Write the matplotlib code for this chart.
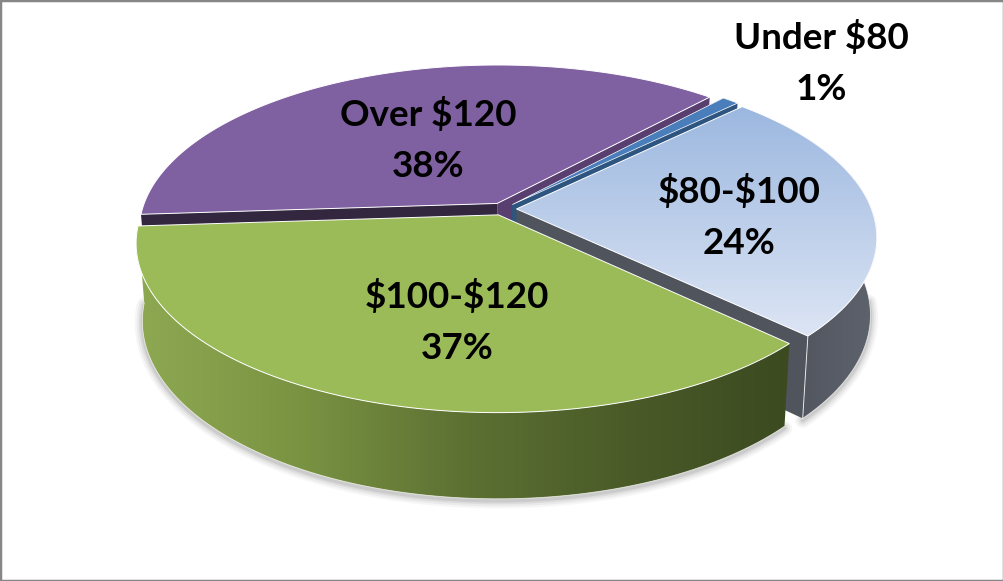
import numpy as np
import matplotlib
matplotlib.use("Agg")
from matplotlib import pyplot as plt
from matplotlib.colors import LinearSegmentedColormap as LSC
from matplotlib.patches import Polygon

# slices, clockwise from the blue sliver, shares
labels = ["Under $80", "$80-$100", "$100-$120", "Over $120"]
shares = [0.9, 24.49, 36.8, 37.81]
pct_labels = ["1%", "24%", "37%", "38%"]
label_x = [821, 739, 457, 428]
label_y = [63, 217, 322, 140]

start = 42.3
explode = 0.038
cx, cy = 503, 209
A, B, k = 355, 163, 0.165
depth, squeeze_x, stretch_y = 76, 0.983, 1.05


def project(X, v, bottom=False):
    w = 1 - k * v
    sx = A * X / w
    sy = B * v / w
    if bottom:
        return cx + sx * squeeze_x, cy + sy * stretch_y + depth
    return cx + sx, cy + sy


def rim(t1, t2, mid, bottom=False):
    t = np.radians(np.linspace(t1, t2, 120))
    X = explode * np.sin(np.radians(mid)) + np.sin(t)
    v = -explode * np.cos(np.radians(mid)) - np.cos(t)
    return np.column_stack(project(X, v, bottom))


def apex(mid, bottom=False):
    X = explode * np.sin(np.radians(mid))
    v = -explode * np.cos(np.radians(mid))
    return np.array([project(X, v, bottom)])


def poly(pts, color, edge="none", lw=0, z=1):
    p = Polygon(pts, closed=True, facecolor=color, edgecolor=edge, linewidth=lw, zorder=z)
    ax.add_patch(p)
    return p


def gradient(patch, colors, extent, vertical=False, z=1):
    cm = LSC.from_list("g", colors)
    g = np.linspace(0, 1, 256)
    g = g.reshape(-1, 1) if vertical else g.reshape(1, -1)
    im = ax.imshow(g, cmap=cm, extent=extent, aspect="auto", zorder=z, interpolation="bilinear")
    im.set_clip_path(patch)


def radius_wall(t, mid, color, z):
    a = apex(mid)
    a2 = apex(mid, True)
    r = rim(t, t, mid)[:1]
    r2 = rim(t, t, mid, True)[:1]
    poly(np.vstack([a, r, r2, a2]), color, z=z)


def rim_wall(t1, t2, mid, z):
    top = rim(t1, t2, mid)
    low = rim(t1, t2, mid, True)
    return Polygon(np.vstack([top, low[::-1]]), closed=True, facecolor="none", edgecolor="none", zorder=z), top, low


fig = plt.figure(figsize=(10.04, 5.81), dpi=100)
ax = fig.add_axes([0, 0, 1, 1])
ax.set_xlim(0, 1004)
ax.set_ylim(581, 0)
ax.set_xticks([])
ax.set_yticks([])
for s in ax.spines.values():
    s.set_color("#868686")
    s.set_linewidth(2.5)

angles = start + np.cumsum([0] + [s * 3.6 for s in shares])
mids = (angles[:-1] + angles[1:]) / 2
(t0, t1, t2, t3, t4) = angles
(m_blue, m_light, m_green, m_purple) = mids

# soft shadow under the front of the pie
for lw, al in [(11, 0.05), (8, 0.07), (5, 0.09), (2.5, 0.12)]:
    low = rim(t2, t3, m_green, True)
    low2 = rim(95, t2, m_light, True)
    ax.plot(low[:, 0], low[:, 1] + 2, color="#555555", lw=lw, alpha=al, zorder=1, solid_capstyle="round")
    ax.plot(low2[:, 0], low2[:, 1] + 2, color="#555555", lw=lw, alpha=al, zorder=1, solid_capstyle="round")

# purple at the back
radius_wall(t3, m_purple, "#33263f", 2)
radius_wall(t4, m_purple, "#593e70", 2)
pts = np.vstack([apex(m_purple), rim(t3, t4, m_purple)])
poly(pts, "#7f60a0", edge="white", lw=0.7, z=3)

# blue sliver
radius_wall(t1, m_blue, "#2d557f", 4)
radius_wall(t0, m_blue, "#2d557f", 4)
poly(np.vstack([apex(m_blue), rim(t0, t1, m_blue)]), "#4a7ebb", edge="white", lw=0.5, z=5)

# light blue slice
radius_wall(t2, m_light, "#50545c", 6)
wall, top, low = rim_wall(t1, t2, m_light, 6)
ax.add_patch(wall)
gradient(wall, ["#4e535c", "#5f646e"], (780, 885, 430, 100), z=6)
ax.plot(low[:, 0], low[:, 1], color="white", lw=0.6, alpha=0.7, zorder=6.5)
corner = np.vstack([rim(t2, t2, m_light)[:1], rim(t2, t2, m_light, True)[:1]])
ax.plot(corner[:, 0], corner[:, 1], color="white", lw=0.7, alpha=0.8, zorder=6.5)
pts = np.vstack([apex(m_light), rim(t1, t2, m_light)])
p = poly(pts, "none", edge="white", lw=0.7, z=8)
p2 = poly(pts, "none", z=7)
gradient(p2, ["#9ab6df", "#dfe7f5"], (500, 890, 345, 100), vertical=True, z=7)

# green slice in front
wall, top, low = rim_wall(t2, t3, m_green, 9)
ax.add_patch(wall)
gradient(wall, ["#8ea952", "#7a9342", "#5d7133", "#4a5b28", "#3c4a20"], (135, 790, 500, 220), z=9)
ax.plot(low[:, 0], low[:, 1], color="white", lw=0.6, alpha=0.7, zorder=9.5)
pts = np.vstack([apex(m_green), rim(t2, t3, m_green)])
poly(pts, "#9bbb59", edge="white", lw=0.7, z=10)

for name, pct, x, y in zip(labels, pct_labels, label_x, label_y):
    ax.text(x, y, name + "\n" + pct, ha="center", va="center", fontsize=26.5, fontweight="bold",
            family="Lato", color="black", linespacing=1.66, parse_math=False, zorder=20)

ax.set_xlim(0, 1004)
ax.set_ylim(581, 0)
fig.savefig("out.png", dpi=100)
